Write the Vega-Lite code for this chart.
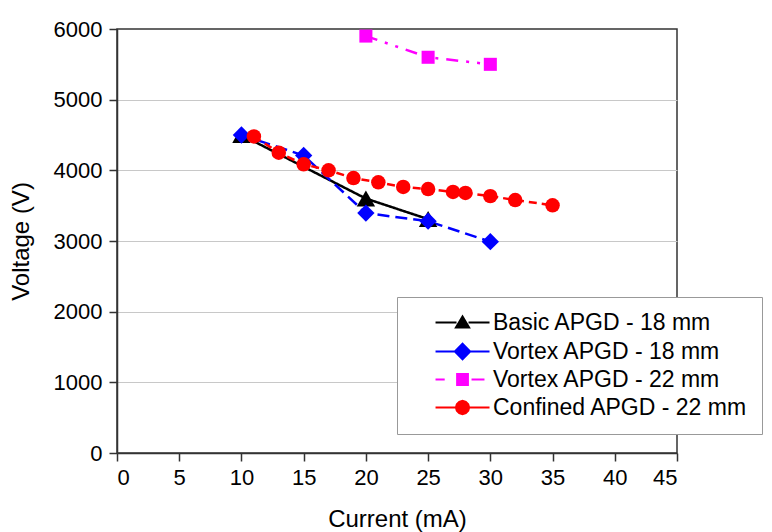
{
  "$schema": "https://vega.github.io/schema/vega-lite/v6.json",
  "width": 560,
  "height": 424,
  "autosize": {"type": "none"},
  "padding": {"left": 117, "top": 29, "right": 95, "bottom": 79},
  "background": "white",
  "config": {
    "font": "Liberation Sans",
    "view": {"stroke": "#333333", "strokeWidth": 1.5},
    "axis": {
      "labelFont": "Liberation Sans",
      "titleFont": "Liberation Sans",
      "labelColor": "#000000",
      "titleColor": "#000000",
      "titleFontWeight": "normal",
      "labelFontSize": 22,
      "titleFontSize": 24,
      "domainColor": "#333333",
      "domainWidth": 1.5,
      "tickColor": "#333333",
      "tickWidth": 1.5,
      "gridColor": "#c8c8c8",
      "gridWidth": 1,
      "labelOverlap": false,
      "labelBound": false
    }
  },
  "data": {
    "values": [
      {"series": "Basic APGD - 18 mm", "current": 10, "voltage": 4500},
      {"series": "Basic APGD - 18 mm", "current": 20, "voltage": 3600},
      {"series": "Basic APGD - 18 mm", "current": 25, "voltage": 3310},
      {"series": "Vortex APGD - 18 mm", "current": 10, "voltage": 4500},
      {"series": "Vortex APGD - 18 mm", "current": 15, "voltage": 4210},
      {"series": "Vortex APGD - 18 mm", "current": 20, "voltage": 3395},
      {"series": "Vortex APGD - 18 mm", "current": 25, "voltage": 3280},
      {"series": "Vortex APGD - 18 mm", "current": 30, "voltage": 2990},
      {"series": "Vortex APGD - 22 mm", "current": 20, "voltage": 5900},
      {"series": "Vortex APGD - 22 mm", "current": 25, "voltage": 5600},
      {"series": "Vortex APGD - 22 mm", "current": 30, "voltage": 5500},
      {"series": "Confined APGD - 22 mm", "current": 11, "voltage": 4480},
      {"series": "Confined APGD - 22 mm", "current": 13, "voltage": 4250},
      {"series": "Confined APGD - 22 mm", "current": 15, "voltage": 4085},
      {"series": "Confined APGD - 22 mm", "current": 17, "voltage": 4000},
      {"series": "Confined APGD - 22 mm", "current": 19, "voltage": 3890},
      {"series": "Confined APGD - 22 mm", "current": 21, "voltage": 3830},
      {"series": "Confined APGD - 22 mm", "current": 23, "voltage": 3765},
      {"series": "Confined APGD - 22 mm", "current": 25, "voltage": 3735},
      {"series": "Confined APGD - 22 mm", "current": 27, "voltage": 3695},
      {"series": "Confined APGD - 22 mm", "current": 28, "voltage": 3680},
      {"series": "Confined APGD - 22 mm", "current": 30, "voltage": 3635},
      {"series": "Confined APGD - 22 mm", "current": 32, "voltage": 3580},
      {"series": "Confined APGD - 22 mm", "current": 35, "voltage": 3505}
    ]
  },
  "layer": [
    {
      "mark": {"type": "line", "strokeWidth": 2.5},
      "encoding": {
        "x": {
          "field": "current",
          "type": "quantitative",
          "scale": {"domain": [0, 45], "nice": false, "zero": false},
          "axis": {
            "title": "Current (mA)",
            "values": [0, 2.5, 5, 7.5, 10, 12.5, 15, 17.5, 20, 22.5, 25, 27.5, 30, 32.5, 35, 37.5, 40, 42.5, 45],
            "grid": false,
            "labelExpr": "datum.value % 5 === 0 ? datum.label : ''",
            "tickSize": {"condition": {"test": "datum.value % 5 === 0", "value": 8}, "value": 5},
            "labelPadding": 6,
            "titlePadding": 19
          }
        },
        "y": {
          "field": "voltage",
          "type": "quantitative",
          "scale": {"domain": [0, 6000], "nice": false},
          "axis": {
            "title": "Voltage (V)",
            "values": [0, 500, 1000, 1500, 2000, 2500, 3000, 3500, 4000, 4500, 5000, 5500, 6000],
            "grid": true,
            "gridOpacity": {"condition": {"test": "datum.value % 1000 === 0 && datum.value > 0 && datum.value < 6000", "value": 1}, "value": 0},
            "labelExpr": "datum.value % 1000 === 0 ? datum.label : ''",
            "format": "d",
            "tickSize": {"condition": {"test": "datum.value % 1000 === 0", "value": 8}, "value": 5},
            "labelPadding": 7,
            "titlePadding": 20
          }
        },
        "color": {
          "field": "series",
          "type": "nominal",
          "scale": {"range": ["#000000", "#ff0000", "#0000ff", "#ff00ff"]},
          "legend": null
        },
        "strokeDash": {
          "field": "series",
          "type": "nominal",
          "scale": {"range": [[1, 0], [8, 5], [12, 6], [12, 8, 3, 8, 3, 8]]},
          "legend": null
        }
      }
    },
    {
      "transform": [{"filter": {"field": "series", "equal": "Basic APGD - 18 mm"}}],
      "mark": {"type": "point", "shape": "triangle-up", "filled": true, "opacity": 1, "size": 340, "color": "#000000"},
      "encoding": {
        "x": {"field": "current", "type": "quantitative"},
        "y": {"field": "voltage", "type": "quantitative"}
      }
    },
    {
      "transform": [{"filter": {"field": "series", "equal": "Vortex APGD - 18 mm"}}],
      "mark": {"type": "point", "shape": "diamond", "filled": true, "opacity": 1, "size": 300, "color": "#0000ff"},
      "encoding": {
        "x": {"field": "current", "type": "quantitative"},
        "y": {"field": "voltage", "type": "quantitative"}
      }
    },
    {
      "transform": [{"filter": {"field": "series", "equal": "Vortex APGD - 22 mm"}}],
      "mark": {"type": "point", "shape": "square", "filled": true, "opacity": 1, "size": 170, "color": "#ff00ff"},
      "encoding": {
        "x": {"field": "current", "type": "quantitative"},
        "y": {"field": "voltage", "type": "quantitative"}
      }
    },
    {
      "transform": [{"filter": {"field": "series", "equal": "Confined APGD - 22 mm"}}],
      "mark": {"type": "point", "shape": "circle", "filled": true, "opacity": 1, "size": 210, "color": "#ff0000"},
      "encoding": {
        "x": {"field": "current", "type": "quantitative"},
        "y": {"field": "voltage", "type": "quantitative"}
      }
    },
    {
      "mark": {"type": "point", "filled": true, "opacity": 1, "size": 0},
      "encoding": {
        "x": {"field": "current", "type": "quantitative"},
        "y": {"field": "voltage", "type": "quantitative"},
        "fill": {
          "field": "series",
          "type": "nominal",
          "scale": {
            "domain": ["Basic APGD - 18 mm", "Vortex APGD - 18 mm", "Vortex APGD - 22 mm", "Confined APGD - 22 mm"],
            "range": ["#000000", "#0000ff", "#ff00ff", "#ff0000"]
          },
          "legend": {
            "title": null,
            "orient": "none",
            "legendX": 280,
            "legendY": 268,
            "padding": 14,
            "fillColor": "#ffffff",
            "strokeColor": "#999999",
            "labelFont": "Liberation Sans",
            "labelFontSize": 23,
            "labelColor": "#000000",
            "labelOffset": 59,
            "rowPadding": 4,
            "symbolSize": 144,
            "symbolStrokeWidth": 2,
            "symbolOpacity": 1,
            "labelLimit": 400,
            "symbolType": {"expr": "datum.value === 'Basic APGD - 18 mm' ? 'M2.17,0H5.67M5.57,0.85L6.67,-1L7.77,0.85ZM7.67,0H11.17' : datum.value === 'Vortex APGD - 18 mm' ? 'M2.17,0H5.5M5.4,0L6.67,-1.3L7.94,0L6.67,1.3ZM7.84,0H11.17' : datum.value === 'Vortex APGD - 22 mm' ? 'M2.17,0H3.7M5.77,-0.9V0.9H7.57V-0.9ZM8.17,0H10.33' : 'M2.17,0H5.57M7.77,0L7.62,0.55L7.22,0.95L6.67,1.1L6.12,0.95L5.72,0.55L5.57,0L5.72,-0.55L6.12,-0.95L6.67,-1.1L7.22,-0.95L7.62,-0.55ZM7.77,0H11.17'"},
            "symbolStrokeColor": {"expr": "datum.value === 'Basic APGD - 18 mm' ? '#000000' : datum.value === 'Vortex APGD - 18 mm' ? '#0000ff' : datum.value === 'Vortex APGD - 22 mm' ? '#ff00ff' : '#ff0000'"}
          }
        }
      }
    }
  ]
}
